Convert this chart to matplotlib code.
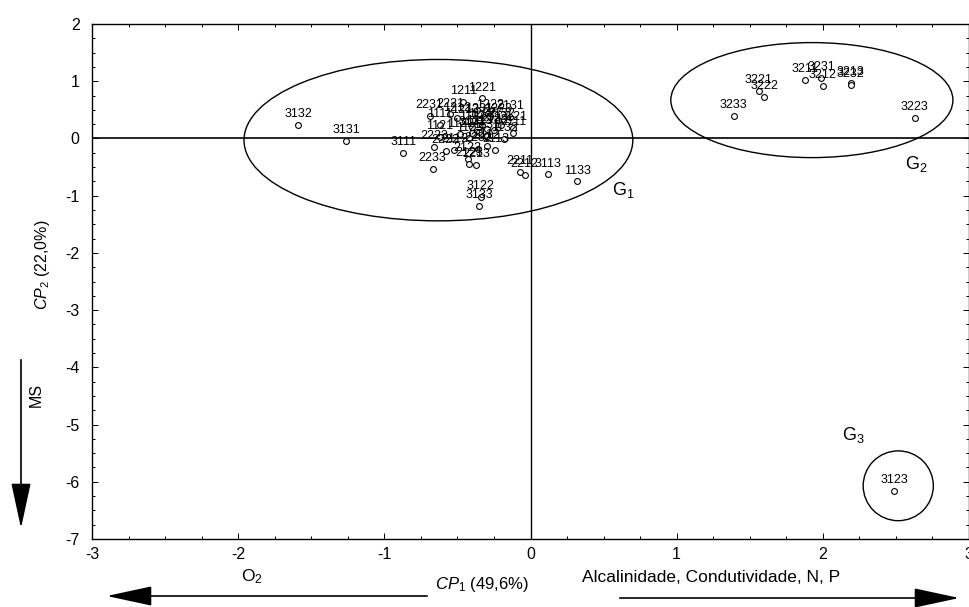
import matplotlib
matplotlib.use('Agg')
import matplotlib.pyplot as plt
from matplotlib.patches import Ellipse, FancyArrowPatch
from matplotlib.ticker import MultipleLocator

plt.rcParams['font.family'] = ['Liberation Sans', 'DejaVu Sans']
plt.rcParams['mathtext.fontset'] = 'custom'
plt.rcParams['mathtext.rm'] = 'Liberation Sans'
plt.rcParams['mathtext.it'] = 'Liberation Sans:italic'

# ---- data (CP1, CP2 scores) ----
labels = ["1211", "1221", "2231", "2221", "1212", "1213", "1222", "1223",
          "2131", "2121", "2132", "2133", "1231", "1232", "1233", "1111",
          "1112", "1113", "1121", "1122", "1123", "1131", "1132", "2111",
          "2112", "2113", "2122", "2123", "2211", "2212", "2213", "2222",
          "2223", "2232", "2233", "3111", "3112", "3113", "3121", "3122",
          "3131", "3132", "3133", "1133",
          "3221", "3222", "3233", "3211", "3231", "3212", "3213", "3232",
          "3223", "3123"]
cp1 = [-0.46, -0.33, -0.69, -0.55, -0.50, -0.45, -0.28, -0.22,
       -0.14, -0.12, -0.20, -0.25, -0.35, -0.33, -0.30, -0.62,
       -0.40, -0.35, -0.62, -0.48, -0.42, -0.30, -0.18, -0.12,
       -0.52, -0.24, -0.43, -0.42, -0.07, -0.04, -0.37, -0.58,
       -0.66, -0.36, -0.67, -0.87, -0.30, 0.12, -0.40, -0.34,
       -1.26, -1.59, -0.35, 0.32,
       1.56, 1.60, 1.39, 1.88, 1.99, 2.00, 2.19, 2.19,
       2.63, 2.49]
cp2 = [0.64, 0.70, 0.39, 0.42, 0.35, 0.30, 0.40, 0.32,
       0.37, 0.18, 0.24, 0.14, 0.32, 0.24, 0.17, 0.24,
       0.20, 0.12, 0.02, 0.07, 0.00, 0.04, -0.01, 0.10,
       -0.20, -0.20, -0.36, -0.44, -0.59, -0.64, -0.46, -0.22,
       -0.15, -0.18, -0.54, -0.26, -0.13, -0.63, 0.10, -1.02,
       -0.04, 0.23, -1.18, -0.75,
       0.83, 0.73, 0.40, 1.02, 1.06, 0.92, 0.97, 0.93,
       0.36, -6.16]

group_names = ["1", "2", "3"]
group_cx = [-0.63, 1.925, 2.516]
group_cy = [-0.03, 0.67, -6.07]
group_w = [2.66, 1.93, 0.48]
group_h = [2.82, 2.01, 1.22]
group_label_x = [0.56, 2.56, 2.13]
group_label_y = [-0.90, -0.44, -5.18]

xticks = [-3, -2, -1, 0, 1, 2, 3]
yticks = [2, 1, 0, -1, -2, -3, -4, -5, -6, -7]

W, H = 969, 607
fig = plt.figure(figsize=(W / 100, H / 100), dpi=100)
ax = fig.add_axes([92 / W, 68 / H, 877 / W, 515 / H])
ax.set_xlim(-3, 3)
ax.set_ylim(-7, 2)
ax.set_xticks(xticks)
ax.set_yticks(yticks)
ax.set_xticklabels([str(t) for t in xticks])
ax.set_yticklabels([str(t) for t in yticks])
ax.xaxis.set_minor_locator(MultipleLocator(0.25))
ax.yaxis.set_minor_locator(MultipleLocator(0.25))
ax.tick_params(which='both', direction='in', top=True, right=True, width=0.7)
ax.tick_params(which='major', length=4, labelsize=11.5, pad=6)
ax.tick_params(axis='y', which='major', pad=9)
ax.tick_params(which='minor', length=2)
for s in ax.spines.values():
    s.set_linewidth(1.0)

ax.axhline(0, color='black', lw=1.2, zorder=1)
ax.axvline(0, color='black', lw=1.0, zorder=1)

ax.plot(cp1, cp2, 'o', ls='none', mfc='white', mec='black', ms=4.2, mew=0.8, zorder=3)
for lab, x, y in zip(labels, cp1, cp2):
    ax.annotate(lab, (x, y), xytext=(0, 3.5), textcoords='offset points',
                ha='center', va='bottom', fontsize=9, zorder=4)

for n, cx, cy, w, h, lx, ly in zip(group_names, group_cx, group_cy, group_w, group_h,
                                   group_label_x, group_label_y):
    ax.add_patch(Ellipse((cx, cy), w, h, fill=False, ec='black', lw=1.0, zorder=2))
    ax.text(lx, ly, r'G$_{%s}$' % n, fontsize=13, ha='left', va='center')

# axis titles and direction arrows
fig.text(42 / W, 1 - 265 / H, r'$\mathit{CP}_2$ (22,0%)', rotation=90,
         ha='center', va='center', fontsize=11.5)
fig.text(36 / W, 1 - 395 / H, 'MS', rotation=90, ha='center', va='center', fontsize=11.5)
fig.text(482 / W, 1 - 585 / H, r'$\mathit{CP}_1$ (49,6%)', ha='center', va='center', fontsize=12)
fig.text(252 / W, 1 - 577 / H, r'O$_2$', ha='center', va='center', fontsize=12.5)
fig.text(711 / W, 1 - 578 / H, 'Alcalinidade, Condutividade, N, P',
         ha='center', va='center', fontsize=12.5)

def farrow(x0, y0, x1, y1):
    a = FancyArrowPatch((x0 / W, 1 - y0 / H), (x1 / W, 1 - y1 / H),
                        transform=fig.transFigure,
                        arrowstyle='-|>,head_length=13,head_width=2.8',
                        color='black', lw=1.2, mutation_scale=2.2)
    fig.add_artist(a)

farrow(21, 357, 21, 531)
farrow(430, 596, 104, 596)
farrow(617, 598, 962, 598)

fig.savefig('out.png', dpi=100)
